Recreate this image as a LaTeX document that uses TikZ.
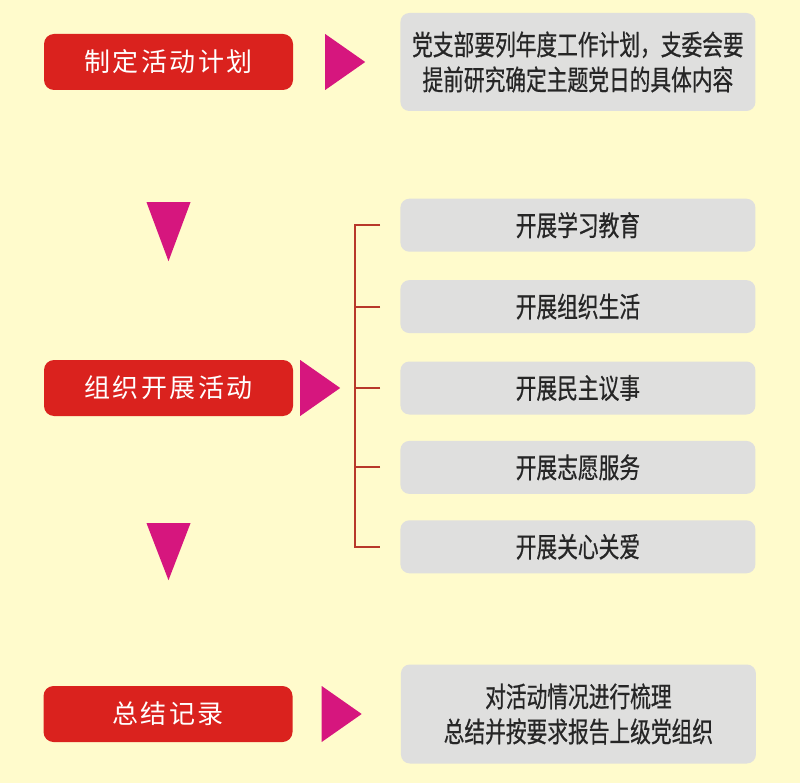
\documentclass[tikz,border=0pt]{standalone}
\usepackage{fontspec}
\usetikzlibrary{positioning,calc}

\newfontfamily\cjkbtn[LetterSpace=10]{Noto Sans CJK SC}
\newfontfamily\cjkcond[FakeStretch=0.74,FakeBold=0.6]{Noto Sans CJK SC}

\definecolor{bgyellow}{RGB}{255,251,204}
\definecolor{btnred}{RGB}{218,34,30}
\definecolor{trimag}{RGB}{214,22,126}
\definecolor{boxgray}{RGB}{223,223,222}
\definecolor{brkred}{RGB}{184,56,42}

\tikzset{
  stage/.style={rectangle, rounded corners=10pt, fill=btnred, text=white,
    minimum width=249pt, minimum height=56pt, inner sep=0pt,
    font={\cjkbtn\fontsize{26}{30}\selectfont}},
  info/.style={rectangle, rounded corners=9pt, fill=boxgray, text=black!85,
    minimum width=355pt, minimum height=53pt, inner sep=0pt, align=center,
    font={\cjkcond\fontsize{28}{35}\selectfont}},
  tri/.style={fill=trimag},
  brk/.style={draw=brkred, line width=2pt}
}

\begin{document}
\begin{tikzpicture}[x=1pt,y=-1pt]
 \fill[bgyellow] (0,0) rectangle (800,783);
 \useasboundingbox (0,0) rectangle (800,783);
 %
 \node[stage] (plan) at (168.5,62) {制定活动计划};
 \node[stage] (act) at (168.5,388) {组织开展活动};
 \node[stage] (rec) at (168,714) {总结记录};
 %
 \node[info, minimum height=98pt, right=107pt of plan] (p1)
   {党支部要列年度工作计划，支委会要\\提前研究确定主题党日的具体内容};
 \node[info, right=107pt of act] (s3) {开展民主议事};
 \node[info, above=28pt of s3] (s2) {开展组织生活};
 \node[info, above=28pt of s2] (s1) {开展学习教育};
 \node[info, below=26pt of s3] (s4) {开展志愿服务};
 \node[info, below=26pt of s4] (s5) {开展关心关爱};
 \node[info, minimum height=99pt, right=108pt of rec] (r1)
   {对活动情况进行梳理\\总结并按要求报告上级党组织};
 %
 \fill[tri] ([xshift=32pt]plan.east) ++(0,-28) -- ++(40,28) -- ++(-40,28) -- cycle;
 \fill[tri] ([xshift=7pt]act.east) ++(0,-28) -- ++(40,28) -- ++(-40,28) -- cycle;
 \fill[tri] ([xshift=29pt]rec.east) ++(0,-28) -- ++(40,28) -- ++(-40,28) -- cycle;
 \fill[tri] ([yshift=-112pt]plan.south) ++(-22,0) -- ++(44,0) -- ++(-22,59) -- cycle;
 \fill[tri] ([yshift=-107pt]act.south) ++(-22,0) -- ++(44,0) -- ++(-22,57) -- cycle;
 %
 \draw[brk] ([xshift=-20pt]s1.west) -- ([xshift=-45pt]s1.west)
   -- ([xshift=-45pt]s5.west) -- ([xshift=-20pt]s5.west);
 \foreach \i in {2,3,4}
   \draw[brk] ([xshift=-20pt]s\i.west) -- ++(-25,0);
\end{tikzpicture}
\end{document}
